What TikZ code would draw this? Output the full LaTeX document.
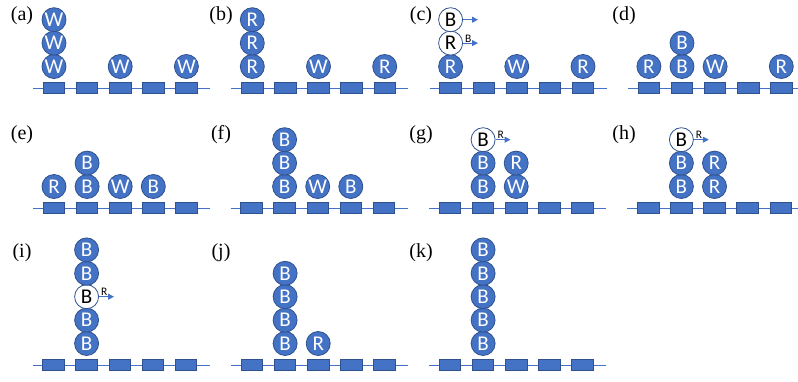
\documentclass[tikz,border=0pt]{standalone}
\usepackage{fontspec}
\setmainfont{Liberation Serif}
\newfontfamily\beadfont{Carlito}
\usetikzlibrary{arrows.meta}
\definecolor{obl}{HTML}{4472C4}
\definecolor{obd}{HTML}{2F528F}
\tikzset{
  track/.style={draw=obl, line width=0.9pt},
  slot/.style={rectangle, fill=obl, draw=obd, line width=0.8pt, minimum width=21.5pt, minimum height=11pt, inner sep=0pt},
  sbead/.style={circle, fill=obl, draw=obd, line width=0.8pt, minimum size=24pt, inner sep=0pt, text=white, font=\beadfont\fontsize{21}{21}\selectfont},
  wbead/.style={circle, fill=white, draw=obd, line width=0.8pt, minimum size=24pt, inner sep=0pt, text=black, font=\beadfont\fontsize{21}{21}\selectfont},
  pusharrow/.style={draw=obl, line width=1pt, -{Triangle[length=6pt,width=6pt]}},
  pushlabel/.style={font=\beadfont\fontsize{11.5}{11.5}\selectfont, inner sep=0.6pt, above},
  plabel/.style={font=\fontsize{20}{20}\selectfont, inner sep=0pt}
}
\newcommand\panelset[3]{% name, x0, ytrack
  \def\pn{#1}\def\px{#2}\def\py{#3}%
  \coordinate (#1-L) at (#2-21,#3);
  \coordinate (#1-R) at (#2+156,#3);
  \draw[track] (#1-L) -- (#1-R);
  \foreach \i in {0,...,4} {\node[slot] (#1-s\i) at ({#2+33.1*\i},#3) {};}
}
\newcommand\bead[4]{\node[#1] (\pn-#2-#3) at ({\px+33.1*#2},{\py-21.5-23.4*#3}) {#4};}
\newcommand\push[2]{%
  \coordinate (#1-t) at ([xshift=15pt]#1.east);
  \draw[pusharrow] (#1) -- (#1-t) node[pushlabel, pos=0.35] {#2};
}
\begin{document}
\begin{tikzpicture}[x=1pt,y=-1pt]
\useasboundingbox (0,0) rectangle (798,381);
% labels
\node[plabel] (la) at (22,16) {(a)};
\node[plabel] (lb) at (221,16) {(b)};
\node[plabel] (lc) at (421,16) {(c)};
\node[plabel] (ld) at (624,16) {(d)};
\node[plabel] (le) at (22,135) {(e)};
\node[plabel] (lf) at (221,135) {(f)};
\node[plabel] (lg) at (421,135) {(g)};
\node[plabel] (lh) at (624,135) {(h)};
\node[plabel] (li) at (22,253) {(i)};
\node[plabel] (lj) at (221,253) {(j)};
\node[plabel] (lk) at (421,253) {(k)};
% (a)
\panelset{a}{54}{88}
\bead{sbead}{0}{0}{W}\bead{sbead}{0}{1}{W}\bead{sbead}{0}{2}{W}
\bead{sbead}{2}{0}{W}\bead{sbead}{4}{0}{W}
% (b)
\panelset{b}{252.3}{88}
\bead{sbead}{0}{0}{R}\bead{sbead}{0}{1}{R}\bead{sbead}{0}{2}{R}
\bead{sbead}{2}{0}{W}\bead{sbead}{4}{0}{R}
% (c)
\panelset{c}{450.6}{88}
\bead{sbead}{0}{0}{R}\bead{wbead}{0}{1}{R}\bead{wbead}{0}{2}{B}
\bead{sbead}{2}{0}{W}\bead{sbead}{4}{0}{R}
\push{c-0-1}{B}
\push{c-0-2}{}
% (d)
\panelset{d}{648.9}{88}
\bead{sbead}{0}{0}{R}\bead{sbead}{1}{0}{B}\bead{sbead}{1}{1}{B}
\bead{sbead}{2}{0}{W}\bead{sbead}{4}{0}{R}
% (e)
\panelset{e}{54}{208}
\bead{sbead}{0}{0}{R}\bead{sbead}{1}{0}{B}\bead{sbead}{1}{1}{B}
\bead{sbead}{2}{0}{W}\bead{sbead}{3}{0}{B}
% (f)
\panelset{f}{251.5}{208}
\bead{sbead}{1}{0}{B}\bead{sbead}{1}{1}{B}\bead{sbead}{1}{2}{B}
\bead{sbead}{2}{0}{W}\bead{sbead}{3}{0}{B}
% (g)
\panelset{g}{450}{208}
\bead{sbead}{1}{0}{B}\bead{sbead}{1}{1}{B}\bead{wbead}{1}{2}{B}
\bead{sbead}{2}{0}{W}\bead{sbead}{2}{1}{R}
\push{g-1-2}{R}
% (h)
\panelset{h}{648.3}{208}
\bead{sbead}{1}{0}{B}\bead{sbead}{1}{1}{B}\bead{wbead}{1}{2}{B}
\bead{sbead}{2}{0}{R}\bead{sbead}{2}{1}{R}
\push{h-1-2}{R}
% (i)
\panelset{i}{53.5}{365}
\bead{sbead}{1}{0}{B}\bead{sbead}{1}{1}{B}\bead{wbead}{1}{2}{B}
\bead{sbead}{1}{3}{B}\bead{sbead}{1}{4}{B}
\push{i-1-2}{R}
% (j)
\panelset{j}{252}{365}
\bead{sbead}{1}{0}{B}\bead{sbead}{1}{1}{B}\bead{sbead}{1}{2}{B}
\bead{sbead}{1}{3}{B}\bead{sbead}{2}{0}{R}
% (k)
\panelset{k}{450}{365}
\bead{sbead}{1}{0}{B}\bead{sbead}{1}{1}{B}\bead{sbead}{1}{2}{B}
\bead{sbead}{1}{3}{B}\bead{sbead}{1}{4}{B}
\end{tikzpicture}
\end{document}
